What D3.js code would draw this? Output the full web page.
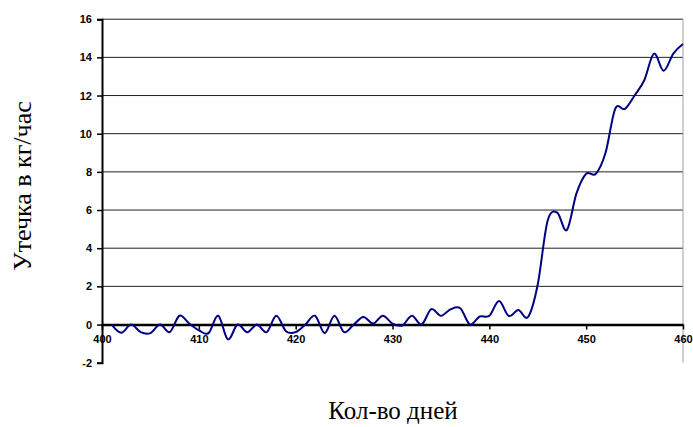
<!DOCTYPE html>
<html>
<head>
<meta charset="utf-8">
<script src="https://cdn.jsdelivr.net/npm/d3@7"></script>
<style>
body { margin: 0; background: #fff; }
.tick text { font-family: "Liberation Sans", Arial, sans-serif; font-weight: bold; font-size: 11px; }
</style>
</head>
<body>
<div id="chart"></div>
<script>
var width = 693;
var height = 427;

// days and leak values (kg/h)
var days = d3.range(401, 461);
var leak = [0, -0.43, 0, -0.4, -0.45, 0, -0.4, 0.46, 0.05, -0.3,
            -0.45, 0.46, -0.78, 0, -0.4, 0, -0.4, 0.46, -0.35, -0.4,
            0, 0.46, -0.45, 0.46, -0.4, 0, 0.4, 0.05, 0.46, 0.05,
            -0.05, 0.46, 0, 0.81, 0.46, 0.8, 0.85, 0, 0.42, 0.46,
            1.23, 0.45, 0.76, 0.4, 2.1, 5.4, 5.87, 4.95, 6.87, 7.9,
            7.9, 9.0, 11.3, 11.3, 12.0, 12.8, 14.2, 13.3, 14.2, 14.7];

var xTicks = [400, 410, 420, 430, 440, 450, 460];
var yTicks = [-2, 0, 2, 4, 6, 8, 10, 12, 14, 16];

var svg = d3.select("#chart").append("svg")
    .attr("width", width)
    .attr("height", height);

var x = d3.scaleLinear().domain([400, 460]).range([102, 683]);
var y = d3.scaleLinear().domain([-2, 16]).range([362.7, 19.2]);

// gridlines
svg.selectAll("line.grid")
    .data(yTicks.filter(function(d) { return d > 0; }))
    .enter().append("line")
    .attr("class", "grid")
    .attr("x1", x(400)).attr("x2", x(460))
    .attr("y1", function(d) { return y(d); })
    .attr("y2", function(d) { return y(d); })
    .attr("stroke", "#222")
    .attr("stroke-width", 1);

// right border
svg.append("line")
    .attr("x1", x(460)).attr("x2", x(460))
    .attr("y1", y(16)).attr("y2", y(-2))
    .attr("stroke", "#a0a0a0")
    .attr("stroke-width", 1);

// y axis
var yAxis = svg.append("g")
    .attr("transform", "translate(" + x(400) + ",0)")
    .call(d3.axisLeft(y).tickValues(yTicks).tickSize(5).tickPadding(5)
        .tickFormat(function(d) { return String(d); }));
yAxis.select(".domain").attr("stroke", "#000").attr("stroke-width", 2);
yAxis.selectAll(".tick line").attr("stroke-width", 1.5);

// x axis at zero
var xAxis = svg.append("g")
    .attr("transform", "translate(0," + y(0) + ")")
    .call(d3.axisBottom(x).tickValues(xTicks).tickSize(5).tickSizeOuter(0).tickPadding(6)
        .tickFormat(function(d) { return String(d); }));
xAxis.select(".domain").attr("stroke", "#000").attr("stroke-width", 2.5);
xAxis.selectAll(".tick line").attr("stroke-width", 1.5);

// series
var line = d3.line()
    .x(function(d, i) { return x(days[i]); })
    .y(function(d) { return y(d); })
    .curve(d3.curveCatmullRom.alpha(0));

svg.append("path")
    .datum(leak)
    .attr("d", line)
    .attr("fill", "none")
    .attr("stroke", "#000080")
    .attr("stroke-width", 2);

// titles
svg.append("text")
    .attr("transform", "translate(31,186) rotate(-90)")
    .attr("text-anchor", "middle")
    .attr("font-family", "'Liberation Serif', 'Times New Roman', serif")
    .attr("font-size", 26)
    .text("Утечка в кг/час");

svg.append("text")
    .attr("x", 393)
    .attr("y", 419)
    .attr("text-anchor", "middle")
    .attr("font-family", "'Liberation Serif', 'Times New Roman', serif")
    .attr("font-size", 25)
    .text("Кол-во дней");
</script>
</body>
</html>
